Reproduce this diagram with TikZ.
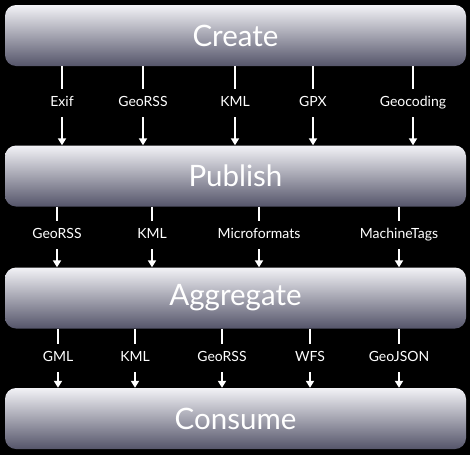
\documentclass[tikz,border=0pt]{standalone}
\usepackage{fontspec}
\setmainfont{Lato}
\usetikzlibrary{arrows.meta}

\definecolor{barTop}{HTML}{F2F2F6}
\definecolor{barMid}{HTML}{A9A9B5}
\definecolor{barBot}{HTML}{55556A}

\tikzset{
  bar/.style={rounded corners=11pt, minimum width=461pt, minimum height=61pt,
    top color=barTop, middle color=barMid, bottom color=barBot,
    text=white, font=\fontsize{29.5}{31}\selectfont, inner sep=0pt},
  fmt/.style={text=white, font=\fontsize{14}{16}\selectfont,
    minimum height=28pt, inner sep=0pt, text height=10pt, text depth=3pt},
  wire/.style={white, line width=2pt},
  flow/.style={wire, -{Triangle[width=8pt,length=7pt]}}
}

\begin{document}
\begin{tikzpicture}[x=1pt, y=-1pt]
    % Background
    \fill[black] (0,0) rectangle (470,455);
    \useasboundingbox (0,0) rectangle (470,455);

    % Stages
    \node[bar] (create)    at (235.5,35.5)  {Create};
    \node[bar] (publish)   at (235.5,176)   {Publish};
    \node[bar] (aggregate) at (235.5,298)   {Aggregate};
    \node[bar] (consume)   at (235.5,418.5) {Consume};

    % Create -> Publish
    \node[fmt] (c1) at (62,103)  {Exif};
    \node[fmt] (c2) at (143,103) {GeoRSS};
    \node[fmt] (c3) at (235,103) {KML};
    \node[fmt] (c4) at (313,103) {GPX};
    \node[fmt] (c5) at (413,103) {Geocoding};
    \foreach \n in {c1,c2,c3,c4,c5} {
        \draw[wire] (create.south -| \n) -- (\n.north);
        \draw[flow] (\n.south) -- (publish.north -| \n);
    }

    % Publish -> Aggregate
    \node[fmt] (p1) at (57,235)  {GeoRSS};
    \node[fmt] (p2) at (152,235) {KML};
    \node[fmt] (p3) at (259,235) {Microformats};
    \node[fmt] (p4) at (399,235) {MachineTags};
    \foreach \n in {p1,p2,p3,p4} {
        \draw[wire] (publish.south -| \n) -- (\n.north);
        \draw[flow] (\n.south) -- (aggregate.north -| \n);
    }

    % Aggregate -> Consume
    \node[fmt] (a1) at (58,358)  {GML};
    \node[fmt] (a2) at (135,358) {KML};
    \node[fmt] (a3) at (222,358) {GeoRSS};
    \node[fmt] (a4) at (310,358) {WFS};
    \node[fmt] (a5) at (399,358) {GeoJSON};
    \foreach \n in {a1,a2,a3,a4,a5} {
        \draw[wire] (aggregate.south -| \n) -- (\n.north);
        \draw[flow] (\n.south) -- (consume.north -| \n);
    }
\end{tikzpicture}
\end{document}
